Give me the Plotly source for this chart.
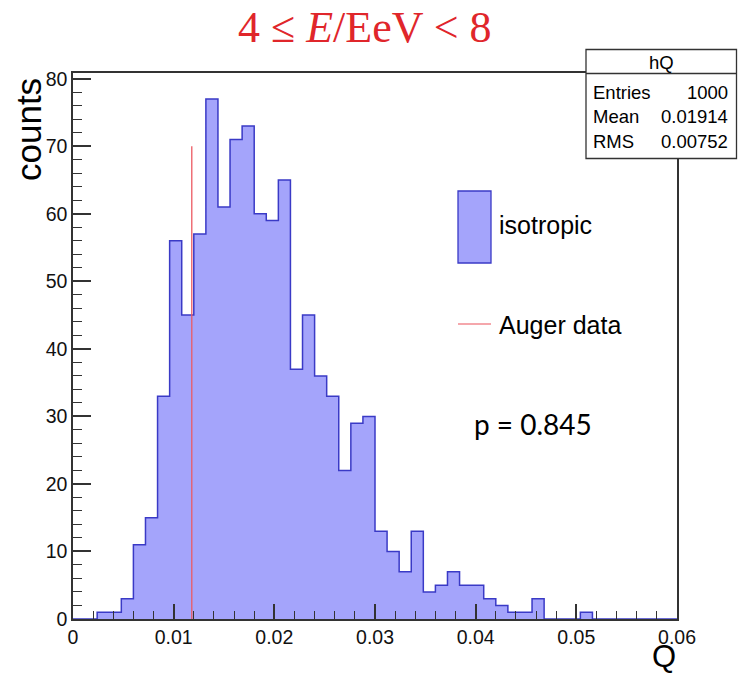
import numpy as np
import plotly.graph_objects as go

# Histogram hQ: 50 bins on [0, 0.06]
q_min, q_max = 0.0, 0.06
n_bins = 50
counts = [0, 0, 1, 1, 3, 11, 15, 33, 56, 45,
          57, 77, 61, 71, 73, 60, 59, 65, 37, 45,
          36, 33, 22, 29, 30, 13, 10, 7, 13, 4,
          5, 7, 5, 5, 3, 2, 1, 1, 3, 0,
          0, 0, 1, 0, 0, 0, 0, 0, 0, 0]

# Measured value and marker height
auger_q = 0.0118
auger_height = 70

# Statistics box
stats_name = "hQ"
stats_labels = ["Entries", "Mean", "RMS"]
stats_values = ["1000", "0.01914", "0.00752"]

p_value = "0.845"
x_ticks = [0, 0.01, 0.02, 0.03, 0.04, 0.05, 0.06]
x_tick_text = ["0", "0.01", "0.02", "0.03", "0.04", "0.05", "0.06"]
y_ticks = [0, 10, 20, 30, 40, 50, 60, 70, 80]

edges = np.linspace(q_min, q_max, n_bins + 1)
width = edges[1] - edges[0]
centers = edges[:-1] + width / 2

FILL = "#a4a4fb"
EDGE = "#3a3ac6"
RED = "#ec5a62"
RED_LEG = "#f28a90"
AXIS = "#333333"

W, H = 738, 675
ML, MR, MT, MB = 73, 61, 73, 56
PW, PH = W - ML - MR, H - MT - MB


def px(x):
    return (x - ML) / PW


def py(y):
    return (H - MB - y) / PH


fig = go.Figure()
fig.add_trace(go.Bar(x=centers, y=counts, width=width,
                     marker=dict(color=FILL, line=dict(width=0)),
                     hoverinfo="skip", showlegend=False))
fig.add_trace(go.Scatter(x=list(edges), y=counts + [counts[-1]],
                         mode="lines", line=dict(shape="hv", color=EDGE, width=1.5),
                         showlegend=False))
fig.add_trace(go.Scatter(x=[auger_q, auger_q], y=[0, auger_height],
                         mode="lines", line=dict(color=RED, width=1.3),
                         showlegend=False))

sans = "Liberation Sans, Arial, sans-serif"

fig.update_layout(
    width=W, height=H,
    margin=dict(l=ML, r=MR, t=MT, b=MB),
    paper_bgcolor="white", plot_bgcolor="white",
    bargap=0,
    xaxis=dict(range=[q_min, q_max], tickvals=x_ticks, ticktext=x_tick_text,
               ticks="inside", ticklen=15, tickwidth=1.5, tickcolor=AXIS,
               minor=dict(dtick=0.002, ticks="inside", ticklen=8, tickwidth=1.2, tickcolor=AXIS),
               showgrid=False, zeroline=False,
               showline=True, linecolor=AXIS, linewidth=1.5, mirror=True,
               tickfont=dict(family=sans, size=19.5, color="#111")),
    yaxis=dict(range=[0, 80.85], tickvals=y_ticks,
               ticks="inside", ticklen=18, tickwidth=1.5, tickcolor=AXIS,
               minor=dict(dtick=2, ticks="inside", ticklen=9, tickwidth=1.2, tickcolor=AXIS),
               showgrid=False, zeroline=False,
               showline=True, linecolor=AXIS, linewidth=1.5, mirror=True,
               tickfont=dict(family=sans, size=19.5, color="#111")),
)

shapes = []
annotations = []

# Title
annotations.append(dict(x=px(364), y=py(27), xref="paper", yref="paper",
                        text="4 ≤ <i>E</i>/EeV &lt; 8", showarrow=False,
                        font=dict(family="Liberation Serif, Times New Roman, serif", size=44, color="#e0262b"),
                        xanchor="center", yanchor="middle"))
# Axis titles
annotations.append(dict(x=px(29), y=py(130), xref="paper", yref="paper",
                        text="counts", textangle=-90, showarrow=False,
                        font=dict(family=sans, size=35, color="black"),
                        xanchor="center", yanchor="middle"))
annotations.append(dict(x=px(678), y=py(656), xref="paper", yref="paper",
                        text="Q", showarrow=False,
                        font=dict(family=sans, size=31, color="black"),
                        xanchor="right", yanchor="middle"))

# Statistics box
bx0, bx1, by0, by1, bhead = 586, 736.5, 49.5, 158.5, 73.5
shapes.append(dict(type="rect", xref="paper", yref="paper",
                   x0=px(bx0), x1=px(bx1), y0=py(by1), y1=py(by0),
                   fillcolor="white", line=dict(color=AXIS, width=1.3), layer="above"))
shapes.append(dict(type="line", xref="paper", yref="paper",
                   x0=px(bx0), x1=px(bx1), y0=py(bhead), y1=py(bhead),
                   line=dict(color=AXIS, width=1.3), layer="above"))
annotations.append(dict(x=px((bx0 + bx1) / 2), y=py(62), xref="paper", yref="paper",
                        text=stats_name, showarrow=False,
                        font=dict(family=sans, size=18.5, color="black"),
                        xanchor="center", yanchor="middle"))
for i, (lab, val) in enumerate(zip(stats_labels, stats_values)):
    yy = py(92 + 24.5 * i)
    annotations.append(dict(x=px(591), y=yy, xref="paper", yref="paper", text=lab,
                            showarrow=False, font=dict(family=sans, size=18.5, color="black"),
                            xanchor="left", yanchor="middle"))
    annotations.append(dict(x=px(730), y=yy, xref="paper", yref="paper", text=val,
                            showarrow=False, font=dict(family=sans, size=18.5, color="black"),
                            xanchor="right", yanchor="middle"))

# Legend
shapes.append(dict(type="rect", xref="paper", yref="paper",
                   x0=px(458), x1=px(491), y0=py(263), y1=py(191),
                   fillcolor=FILL, line=dict(color=EDGE, width=1.3), layer="above"))
annotations.append(dict(x=px(497), y=py(225), xref="paper", yref="paper",
                        text="isotropic", showarrow=False,
                        font=dict(family=sans, size=25, color="black"),
                        xanchor="left", yanchor="middle"))
shapes.append(dict(type="line", xref="paper", yref="paper",
                   x0=px(458), x1=px(491), y0=py(324), y1=py(324),
                   line=dict(color=RED_LEG, width=1.5), layer="above"))
annotations.append(dict(x=px(497), y=py(325), xref="paper", yref="paper",
                        text="Auger data", showarrow=False,
                        font=dict(family=sans, size=25, color="black"),
                        xanchor="left", yanchor="middle"))

annotations.append(dict(x=px(472), y=py(424), xref="paper", yref="paper",
                        text="p = " + p_value, showarrow=False,
                        font=dict(family="Lato, Open Sans, sans-serif", size=28, color="black"),
                        xanchor="left", yanchor="middle"))

fig.update_layout(shapes=shapes, annotations=annotations)
fig.write_html("out.html")
